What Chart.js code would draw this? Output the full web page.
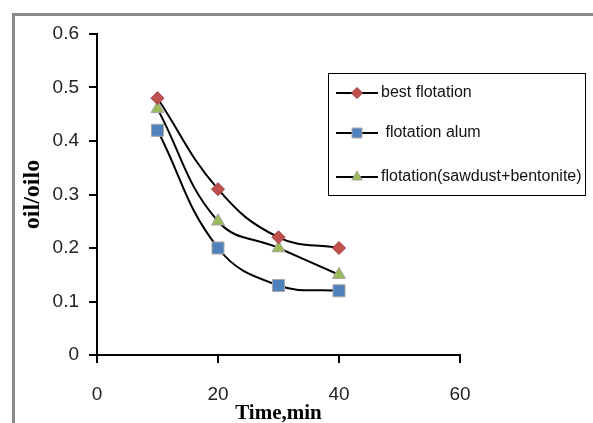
<!DOCTYPE html>
<html>
<head>
<meta charset="utf-8">
<script src="https://cdn.jsdelivr.net/npm/chart.js@4.4.1/dist/chart.umd.min.js"></script>
<style>
  html, body { margin: 0; padding: 0; background: #fff; }
  #wrap { position: relative; width: 593px; height: 423px; overflow: hidden; background: #fff; }
  #frame { position: absolute; left: 12px; top: 13px; width: 700px; height: 600px;
           border-left: 3px solid #8c8c8c; border-top: 3px solid #8c8c8c; box-sizing: border-box; }
  canvas { position: absolute; left: 0; top: 0; }
</style>
</head>
<body>
<div id="wrap">
  <div id="frame"></div>
  <canvas id="c" width="593" height="423"></canvas>
</div>
<script>
// ---- data ----
const timeMin = [10, 20, 30, 40];
const bestFlotation = [0.48, 0.31, 0.22, 0.20];
const flotationAlum = [0.42, 0.20, 0.13, 0.12];
const flotationSawdust = [0.46, 0.25, 0.20, 0.15];
const seriesNames = ['best flotation', ' flotation alum', 'flotation(sawdust+bentonite)'];
const xTicks = [0, 20, 40, 60];
const yTicks = [0, 0.1, 0.2, 0.3, 0.4, 0.5, 0.6];

function pts(ys) { return timeMin.map((x, i) => ({ x: x, y: ys[i] })); }

const legendPlugin = {
  id: 'boxLegend',
  afterDraw(chart) {
    const ctx = chart.ctx;
    const bx = 328, by = 73, bw = 257, bh = 122;
    ctx.save();
    ctx.fillStyle = '#fff';
    ctx.fillRect(bx, by, bw, bh);
    ctx.strokeStyle = '#000';
    ctx.lineWidth = 1;
    ctx.strokeRect(bx + 0.5, by + 0.5, bw, bh);
    const rows = [93, 133, 177];
    const legendRadius = [5.5, 7, 6];
    chart.data.datasets.forEach((ds, i) => {
      const y = rows[i];
      ctx.strokeStyle = '#000';
      ctx.lineWidth = 2;
      ctx.beginPath();
      ctx.moveTo(336, y);
      ctx.lineTo(378, y);
      ctx.stroke();
      ctx.fillStyle = ds.pointBackgroundColor;
      ctx.strokeStyle = ds.pointBorderColor;
      ctx.lineWidth = 1;
      Chart.helpers.drawPoint(ctx, { pointStyle: ds.pointStyle, radius: legendRadius[i], rotation: 0, borderWidth: 1 }, 357, y);
      ctx.fillStyle = '#111';
      ctx.font = '16px "Liberation Sans", Arial, sans-serif';
      ctx.textBaseline = 'middle';
      ctx.textAlign = 'left';
      ctx.fillText(seriesNames[i], 381, y);
    });
    ctx.restore();
  }
};

const commonLine = { borderColor: '#000', borderWidth: 2, tension: 0.42, fill: false, pointBorderWidth: 1 };

new Chart(document.getElementById('c'), {
  type: 'line',
  data: {
    datasets: [
      Object.assign({}, commonLine, {
        label: seriesNames[0], data: pts(bestFlotation),
        pointStyle: 'rectRot', pointRadius: 6.5, pointHoverRadius: 6.5,
        pointBackgroundColor: '#C0504D', pointBorderColor: '#9c3d3a'
      }),
      Object.assign({}, commonLine, {
        label: seriesNames[1], data: pts(flotationAlum),
        pointStyle: 'rect', pointRadius: 8.5, pointHoverRadius: 8.5,
        pointBackgroundColor: '#4F81BD', pointBorderColor: '#a6a6a6'
      }),
      Object.assign({}, commonLine, {
        label: seriesNames[2], data: pts(flotationSawdust),
        pointStyle: 'triangle', pointRadius: 7.5, pointHoverRadius: 7.5,
        pointBackgroundColor: '#9BBB59', pointBorderColor: '#a6a6a6'
      })
    ]
  },
  options: {
    responsive: false,
    animation: false,
    events: [],
    layout: { padding: { left: 0, top: 34, right: 133, bottom: 0 } },
    plugins: { legend: { display: false }, tooltip: { enabled: false } },
    scales: {
      x: {
        type: 'linear', min: 0, max: 60,
        afterBuildTicks(scale) { scale.ticks = xTicks.map(v => ({ value: v })); },
        afterFit(scale) { scale.height = 68; },
        ticks: { color: '#222', padding: 20, font: { family: '"Liberation Sans", Arial, sans-serif', size: 19 } },
        grid: { display: true, drawOnChartArea: false, drawTicks: true, tickLength: 8, color: '#000', lineWidth: 2 },
        border: { display: true, color: '#000', width: 2 },
        title: { display: true, text: 'Time,min', color: '#000', padding: { top: 0, bottom: -3 },
                 font: { family: '"Liberation Serif", "Times New Roman", serif', size: 21, weight: 'bold' } }
      },
      y: {
        type: 'linear', min: 0, max: 0.6,
        afterBuildTicks(scale) { scale.ticks = yTicks.map(v => ({ value: v })); },
        afterFit(scale) { scale.width = 97; },
        ticks: { color: '#222', padding: 10, font: { family: '"Liberation Sans", Arial, sans-serif', size: 19 },
                 callback: (v) => String(Math.round(v * 10) / 10) },
        grid: { display: true, drawOnChartArea: false, drawTicks: true, tickLength: 8, color: '#000', lineWidth: 2 },
        border: { display: true, color: '#000', width: 2 },
        title: { display: true, text: 'oil/oilo', color: '#000', padding: { top: 18, bottom: 0 },
                 font: { family: '"Liberation Serif", "Times New Roman", serif', size: 24, weight: 'bold' } }
      }
    }
  },
  plugins: [legendPlugin]
});
</script>
</body>
</html>
